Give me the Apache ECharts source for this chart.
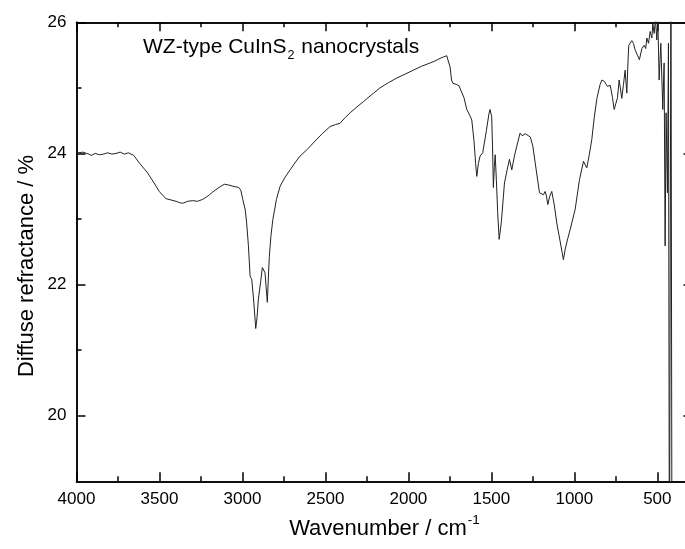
<!DOCTYPE html>
<html>
<head>
<meta charset="utf-8">
<script src="https://cdn.jsdelivr.net/npm/echarts@6/dist/echarts.min.js"></script>
<style>
html,body{margin:0;padding:0;background:#fff;overflow:hidden;}
#c{width:685px;height:549px;}
</style>
</head>
<body>
<div id="c"></div>
<script>
// Wavenumber (cm-1) and diffuse reflectance (%)
var wavenumber = [4000,3985,3975,3962,3950,3938,3925,3912,3900,3887,3875,3862,3850,3837,3825,3812,3800,3787,3775,3762,3750,3737,3725,3712,3700,3687,3675,3655,3620,3590,3571,3540,3501,3480,3460,3430,3400,3380,3360,3330,3300,3270,3239,3220,3199,3180,3159,3130,3109,3085,3058,3040,3022,3010,2998,2984,2975,2964,2954,2944,2932,2920,2912,2904,2890,2880,2870,2864,2857,2850,2844,2838,2828,2817,2795,2773,2745,2713,2680,2653,2610,2573,2520,2472,2440,2412,2380,2351,2310,2271,2220,2171,2120,2070,2020,1970,1920,1869,1840,1809,1790,1769,1760,1749,1740,1732,1720,1708,1695,1684,1665,1648,1630,1618,1605,1595,1588,1578,1568,1552,1530,1515,1508,1498,1493,1488,1482,1477,1470,1462,1453,1440,1421,1405,1391,1377,1362,1347,1327,1315,1307,1295,1283,1265,1250,1230,1210,1198,1186,1176,1168,1160,1148,1136,1120,1106,1085,1066,1055,1040,1025,995,969,945,925,910,895,880,864,845,834,820,810,800,784,770,760,748,740,730,714,704,694,684,675,672,654,644,634,620,608,593,579,570,563,553,543,533,527,519,511,503,497,489,479,467,459,453,447,439,433,427,418,410,400];
var reflectance = [24.02,24.01,24.00,24.02,24.03,24.00,23.99,23.97,23.98,24.00,24.00,23.98,23.97,23.99,24.00,24.01,24.01,23.99,23.98,24.00,24.00,24.02,24.01,23.99,23.99,24.01,24.00,23.97,23.85,23.76,23.70,23.58,23.42,23.36,23.31,23.29,23.27,23.25,23.24,23.27,23.28,23.27,23.30,23.33,23.37,23.41,23.45,23.50,23.53,23.52,23.50,23.49,23.48,23.44,23.30,23.15,22.95,22.59,22.13,22.08,21.75,21.33,21.50,21.78,22.05,22.26,22.24,22.18,21.95,21.73,22.10,22.43,22.75,22.99,23.30,23.50,23.63,23.75,23.87,23.96,24.06,24.16,24.30,24.41,24.44,24.46,24.55,24.62,24.71,24.79,24.90,25.00,25.08,25.15,25.21,25.27,25.33,25.38,25.41,25.45,25.47,25.49,25.46,25.32,25.12,25.07,25.06,25.05,25.03,25.00,24.85,24.67,24.58,24.51,24.20,23.85,23.65,23.85,23.96,24.01,24.35,24.60,24.67,24.56,24.10,23.48,23.80,23.98,23.60,23.10,22.69,22.95,23.55,23.75,23.91,23.75,23.95,24.11,24.31,24.27,24.24,24.30,24.32,24.25,24.11,23.75,23.40,23.38,23.37,23.42,23.35,23.22,23.35,23.42,23.20,22.94,22.65,22.38,22.54,22.70,22.84,23.15,23.60,23.88,23.78,23.98,24.21,24.55,24.84,25.05,25.12,25.10,25.06,25.02,25.04,24.85,24.67,24.64,24.85,25.12,24.84,25.05,25.27,24.92,25.50,25.65,25.72,25.68,25.58,25.50,25.43,25.60,25.65,25.60,25.76,25.68,25.86,25.76,25.98,25.83,26.05,25.73,26.05,25.12,25.68,24.67,25.38,22.59,24.62,23.40,25.68,17.0,27.0,15.0,14.0];

var xMajorTicks = [4000,3500,3000,2500,2000,1500,1000,500];
var xMinorTicks = [3750,3250,2750,2250,1750,1250,750];
var yMajorTicks = [20,22,24,26];
var yMinorTicks = [21,23,25];

var FONT = 'Liberation Sans, Arial, sans-serif';
var xMin = 288, xMax = 4000, yMin = 19, yMax = 26;

function plain(v) { return String(v); }

function xAx(pos, ticks, len, labels, extra) {
  var a = {
    type: 'value', gridIndex: 0, position: pos, inverse: true, min: xMin, max: xMax,
    axisLine: {show: true, lineStyle: {color: '#000', width: 1.5}},
    axisTick: {show: true, inside: true, length: len, customValues: ticks, lineStyle: {color: '#000', width: 1.5}},
    axisLabel: labels ? {show: true, customValues: ticks, formatter: plain, fontSize: 17, color: '#000', margin: 10, fontFamily: FONT} : {show: false},
    splitLine: {show: false}
  };
  for (var k in extra) a[k] = extra[k];
  return a;
}
function yAx(pos, ticks, len, labels, extra) {
  var a = {
    type: 'value', gridIndex: 0, position: pos, min: yMin, max: yMax,
    axisLine: {show: true, lineStyle: {color: '#000', width: 1.5}},
    axisTick: {show: true, inside: true, length: len, customValues: ticks, lineStyle: {color: '#000', width: 1.5}},
    axisLabel: labels ? {show: true, customValues: ticks, formatter: plain, fontSize: 17, color: '#000', margin: 10, fontFamily: FONT} : {show: false},
    splitLine: {show: false}
  };
  for (var k in extra) a[k] = extra[k];
  return a;
}

var chart = echarts.init(document.getElementById('c'));
chart.setOption({
  animation: false,
  backgroundColor: '#fff',
  grid: {left: 76.5, top: 22.3, width: 616, height: 459, containLabel: false, outerBoundsMode: 'none'},
  xAxis: [
    xAx('bottom', xMajorTicks, 9, true, {
      name: '{a|Wavenumber / cm}{s|-1}', nameLocation: 'middle', nameGap: 32,
      nameTextStyle: {rich: {
        a: {fontSize: 22, color: '#000', fontFamily: FONT, lineHeight: 27, verticalAlign: 'bottom'},
        s: {fontSize: 13.5, color: '#000', fontFamily: FONT, lineHeight: 27, verticalAlign: 'top', padding: [0, 0, 0, 1]}
      }}
    }),
    xAx('bottom', xMinorTicks, 5, false, {}),
    xAx('top', xMajorTicks, 9, false, {}),
    xAx('top', xMinorTicks, 5, false, {})
  ],
  yAxis: [
    yAx('left', yMajorTicks, 9, true, {}),
    yAx('left', yMinorTicks, 5, false, {}),
    yAx('right', yMajorTicks, 9, false, {}),
    yAx('right', yMinorTicks, 5, false, {})
  ],
  graphic: [{
    type: 'text', left: 143, top: 37,
    style: {
      text: '{a|WZ-type CuInS}{s|2}{a| nanocrystals}',
      rich: {
        a: {fontSize: 21, fill: '#000', fontFamily: FONT, lineHeight: 25, verticalAlign: 'top'},
        s: {fontSize: 12.5, fill: '#000', fontFamily: FONT, lineHeight: 25, verticalAlign: 'bottom', padding: [0, 1, 0, 1]}
      }
    }
  }, {
    type: 'text', x: 27, y: 266, rotation: Math.PI / 2,
    style: {
      text: 'Diffuse refractance / %', fill: '#000',
      font: '22px ' + FONT, align: 'center', verticalAlign: 'middle'
    }
  }],
  series: [{
    type: 'line', xAxisIndex: 0, yAxisIndex: 0,
    data: wavenumber.map(function (w, i) { return [w, reflectance[i]]; }),
    showSymbol: false, symbol: 'none', clip: true,
    lineStyle: {color: '#222', width: 1}
  }]
});
</script>
</body>
</html>
